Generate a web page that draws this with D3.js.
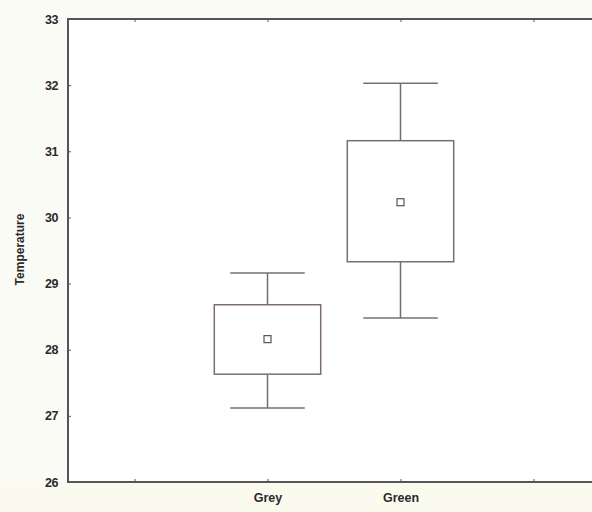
<!DOCTYPE html>
<html><head><meta charset="utf-8">
<script src="https://cdn.jsdelivr.net/npm/d3@7"></script>
<style>body{margin:0;background:#fbfbf5;}svg{display:block;}</style>
</head><body>
<script>
const categories = ["Grey", "Green"];
const positions = [2, 3];
const whiskerLow = [27.12, 28.48];
const boxLow = [27.63, 29.33];
const means = [28.16, 30.23];
const boxHigh = [28.68, 31.16];
const whiskerHigh = [29.16, 32.03];
const yTicks = [26, 27, 28, 29, 30, 31, 32, 33];
const xTicks = [1, 2, 3, 4];

(function () {
const W = 592, H = 512;
const svg = d3.select("body").append("svg").attr("width", W).attr("height", H);
const mLeft = 68, mTop = 19, mBottom = 482;
const x = d3.scaleLinear().domain([0.5, 4.5]).range([mLeft, mLeft + 532]);
const y = d3.scaleLinear().domain([26, 33]).range([mBottom, mTop]);

svg.append("rect").attr("x", 0).attr("y", 0).attr("width", W).attr("height", H).attr("fill", "#fbfbf5");
svg.append("rect").attr("x", 0).attr("y", mBottom).attr("width", W).attr("height", H - mBottom).attr("fill", "#fbfaee");
svg.append("rect").attr("x", mLeft).attr("y", mTop).attr("width", W - mLeft).attr("height", mBottom - mTop).attr("fill", "#ffffff");

const font = "'Liberation Sans', Arial, sans-serif";

// y axis
const yAxis = svg.append("g").attr("transform", `translate(${mLeft},0)`)
  .call(d3.axisLeft(y).tickValues(yTicks).tickSize(-3).tickPadding(10).tickFormat(d3.format("d")));
yAxis.select(".domain").remove();
yAxis.selectAll(".tick line").attr("stroke", "#555").attr("stroke-width", 1);
yAxis.selectAll(".tick text").attr("font-family", font).attr("font-weight", "bold")
  .attr("font-size", 12.5).attr("fill", "#2a2a2a").attr("letter-spacing", "-0.5");

// x axis bottom
const xAxis = svg.append("g").attr("transform", `translate(0,${mBottom})`)
  .call(d3.axisBottom(x).tickValues(xTicks).tickSize(-3).tickPadding(11)
    .tickFormat(d => { const i = positions.indexOf(d); return i >= 0 ? categories[i] : ""; }));
xAxis.select(".domain").remove();
xAxis.selectAll(".tick line").attr("stroke", "#555").attr("stroke-width", 1);
xAxis.selectAll(".tick text").attr("font-family", font).attr("font-weight", "bold")
  .attr("font-size", 12.5).attr("fill", "#2a2a2a");

// top ticks
const xTop = svg.append("g").attr("transform", `translate(0,${mTop})`)
  .call(d3.axisTop(x).tickValues(xTicks).tickSize(-3).tickFormat(""));
xTop.select(".domain").remove();
xTop.selectAll(".tick line").attr("stroke", "#555");

// frame
svg.append("line").attr("x1", mLeft).attr("x2", mLeft).attr("y1", mTop - 1).attr("y2", mBottom + 1)
  .attr("stroke", "#555").attr("stroke-width", 2);
svg.append("line").attr("x1", mLeft - 1).attr("x2", W).attr("y1", mTop).attr("y2", mTop)
  .attr("stroke", "#555").attr("stroke-width", 2);
svg.append("line").attr("x1", mLeft - 1).attr("x2", W).attr("y1", mBottom).attr("y2", mBottom)
  .attr("stroke", "#555").attr("stroke-width", 2);

// y label
svg.append("text").attr("transform", `translate(24,${(mTop + mBottom) / 2 - 1}) rotate(-90)`)
  .attr("text-anchor", "middle").attr("font-family", font).attr("font-weight", "bold")
  .attr("font-size", 12).attr("fill", "#2a2a2a").text("Temperature");

// boxes
const boxHalf = 0.4, whiskHalf = 0.28;
const g = svg.append("g");
categories.forEach((c, i) => {
  const p = positions[i];
  const col = "#7d6e6a";
  g.append("line").attr("x1", x(p)).attr("x2", x(p)).attr("y1", y(whiskerHigh[i])).attr("y2", y(boxHigh[i]))
    .attr("stroke", "#6f6f6f").attr("stroke-width", 1.5);
  g.append("line").attr("x1", x(p)).attr("x2", x(p)).attr("y1", y(boxLow[i])).attr("y2", y(whiskerLow[i]))
    .attr("stroke", "#6f6f6f").attr("stroke-width", 1.5);
  [whiskerHigh[i], whiskerLow[i]].forEach(v => {
    g.append("line").attr("x1", x(p - whiskHalf)).attr("x2", x(p + whiskHalf)).attr("y1", y(v)).attr("y2", y(v))
      .attr("stroke", "#7a6f6c").attr("stroke-width", 1.5);
  });
  g.append("rect").attr("x", x(p - boxHalf)).attr("y", y(boxHigh[i]))
    .attr("width", x(p + boxHalf) - x(p - boxHalf)).attr("height", y(boxLow[i]) - y(boxHigh[i]))
    .attr("fill", "none").attr("stroke", col).attr("stroke-width", 1.5);
  g.append("rect").attr("x", x(p) - 3.5).attr("y", y(means[i]) - 3.5).attr("width", 7).attr("height", 7)
    .attr("fill", "#fff").attr("stroke", "#555").attr("stroke-width", 1.2);
});
})();
</script>
</body></html>
